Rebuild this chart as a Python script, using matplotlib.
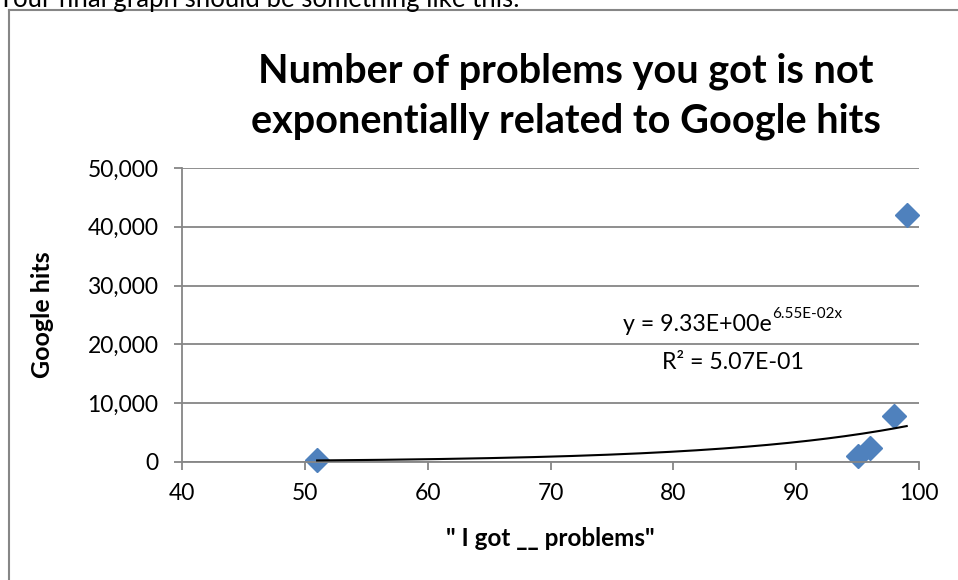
import numpy as np
import matplotlib
matplotlib.use("Agg")
import matplotlib.pyplot as plt
from matplotlib.lines import Line2D
from matplotlib.ticker import FuncFormatter

plt.rcParams['font.family'] = ['Lato', 'DejaVu Sans']

# Data
problems = [51, 95, 96, 98, 99]
hits = [350, 1000, 2400, 7800, 42000]
trend_a = 9.33
trend_b = 0.0655
eq_main = "y = 9.33E+00e"
eq_sup = "6.55E-02x"
r2_text = "R² = 5.07E-01"
title = "Number of problems you got is not\nexponentially related to Google hits"
xlabel = '" I got __ problems"'
ylabel = "Google hits"
xticks = [40, 50, 60, 70, 80, 90, 100]
yticks = [0, 10000, 20000, 30000, 40000, 50000]

W, H = 958, 580
fig = plt.figure(figsize=(W / 100, H / 100), dpi=100)
ax = fig.add_axes([182 / W, 1 - 462 / H, (919 - 182) / W, (462 - 168) / H])

gray = '#868686'
ax.set_xlim(40, 100)
ax.set_ylim(0, 50000)
ax.set_xticks(xticks)
ax.set_yticks(yticks)
ax.yaxis.set_major_formatter(FuncFormatter(lambda v, p: f"{int(v):,}"))
ax.grid(axis='y', color=gray, linewidth=1.3)
ax.set_axisbelow(True)
for s in ['top', 'right']:
    ax.spines[s].set_visible(False)
for s in ['left', 'bottom']:
    ax.spines[s].set_color(gray)
    ax.spines[s].set_linewidth(1.3)
ax.tick_params(axis='both', colors=gray, length=6, width=1.3, labelsize=16.5,
               labelcolor='black', direction='out')
ax.tick_params(axis='x', pad=9)
ax.tick_params(axis='y', pad=11)

xs = np.linspace(min(problems), max(problems), 200)
ax.plot(xs, trend_a * np.exp(trend_b * xs), color='black', linewidth=1.5, zorder=3)
ax.plot(problems, hits, linestyle='none', marker='D', markersize=12,
        color='#4F81BD', zorder=2, clip_on=False)

ax.set_xlabel(xlabel, fontsize=17.5, fontweight='bold', labelpad=17)
ax.set_ylabel(ylabel, fontsize=18, fontweight='bold', labelpad=24)

fig.text(566 / W, 1 - 96 / H, title, ha='center', va='center', fontsize=28.5,
         fontweight='bold', linespacing=1.42)

fig.text(772 / W, 1 - 331 / H, eq_main, ha='right', va='baseline', fontsize=16.7)
fig.text(772 / W, 1 - 318 / H, eq_sup, ha='left', va='baseline', fontsize=11)
fig.text(733 / W, 1 - 369 / H, r2_text, ha='center', va='baseline', fontsize=16.7)

fig.text(-3 / W, 1 - 7 / H, "Your final graph should be something like this:",
         ha='left', va='baseline', fontsize=18.5)

fig.add_artist(Line2D([9 / W, 9 / W], [0, 1 - 10 / H], color=gray, linewidth=1.5))
fig.add_artist(Line2D([9 / W, 1], [1 - 10 / H, 1 - 10 / H], color=gray, linewidth=1.5))

fig.savefig("out.png", dpi=100)
